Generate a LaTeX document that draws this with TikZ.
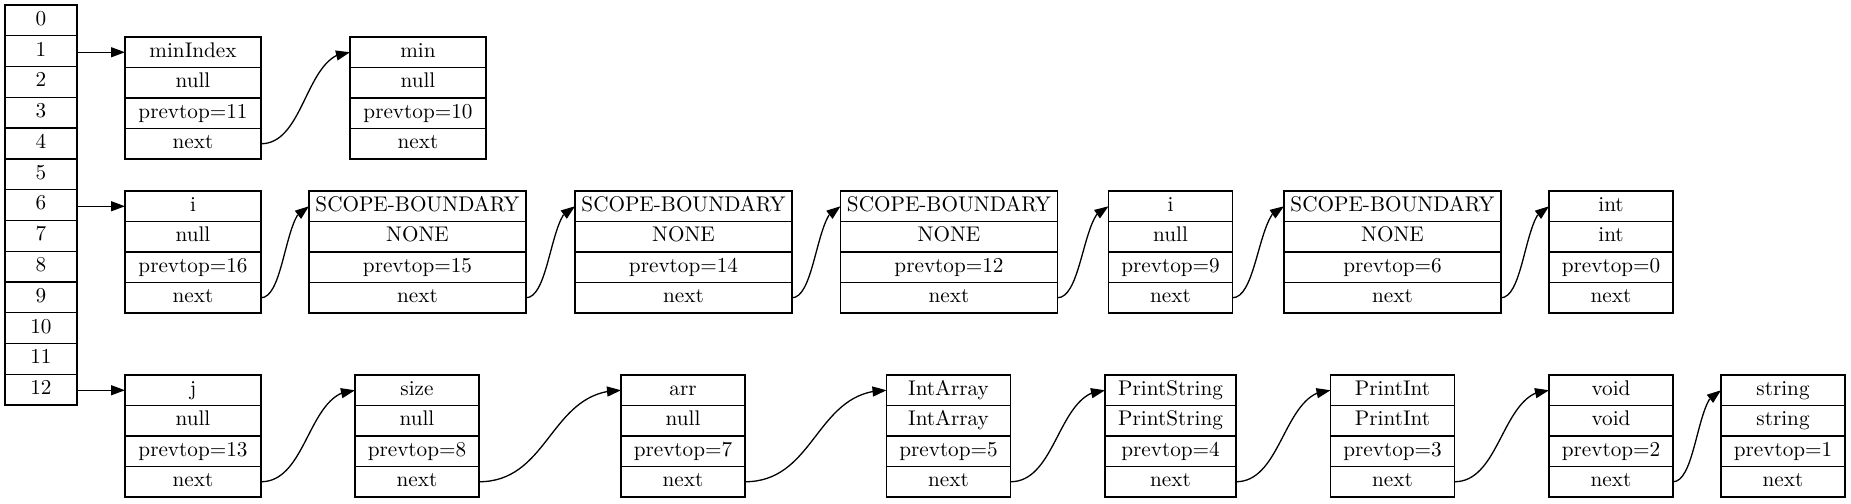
\documentclass[tikz,border=0pt]{standalone}
\usetikzlibrary{arrows.meta,bending}
\newcommand\recnode[8]{%
\node[cell,minimum width=#3*0.5pt] (#1-1) at ({#2+#3/2},{#4+15.25}) {#5};
\node[cell,minimum width=#3*0.5pt] (#1-2) at ({#2+#3/2},{#4+45.75}) {#6};
\node[cell,minimum width=#3*0.5pt] (#1-3) at ({#2+#3/2},{#4+76.25}) {#7};
\node[cell,minimum width=#3*0.5pt] (#1-4) at ({#2+#3/2},{#4+106.75}) {#8};}
\newcommand\lnk[3]{\draw[ptr] (#1-4.east) .. controls +(#3,0) and +(-#3,0) .. (#2-1.west);}
\begin{document}
\begin{tikzpicture}[x=0.5pt,y=-0.5pt,
  cell/.style={draw, line width=0.65pt, inner sep=0pt, outer sep=0pt,
    minimum height=15.25pt, font=\fontsize{10.6}{12}\selectfont,
    text height=1.6ex, text depth=0.45ex},
  acell/.style={cell, minimum width=36pt, minimum height=15.385pt},
  ptr/.style={line width=0.65pt, -{Triangle[length=7pt,width=5pt,flex]}}]
\useasboundingbox (0,0) rectangle (1851,503);
% array
\foreach \k in {0,...,12} \node[acell] (a\k) at (41,{5+30.77*(\k+0.5)}) {\k};
% row 1
\recnode{mi}{125}{136}{37}{minIndex}{null}{prevtop=11}{next}
\recnode{mn}{350}{136}{37}{min}{null}{prevtop=10}{next}
% row 2
\recnode{ia}{125}{136}{191}{i}{null}{prevtop=16}{next}
\recnode{sba}{309}{217}{191}{SCOPE-BOUNDARY}{NONE}{prevtop=15}{next}
\recnode{sbb}{575}{217}{191}{SCOPE-BOUNDARY}{NONE}{prevtop=14}{next}
\recnode{sbc}{840.5}{217}{191}{SCOPE-BOUNDARY}{NONE}{prevtop=12}{next}
\recnode{ib}{1108.5}{124}{191}{i}{null}{prevtop=9}{next}
\recnode{sbd}{1284}{217}{191}{SCOPE-BOUNDARY}{NONE}{prevtop=6}{next}
\recnode{int}{1549}{124}{191}{int}{int}{prevtop=0}{next}
% row 3
\recnode{j}{125}{136}{375}{j}{null}{prevtop=13}{next}
\recnode{size}{355}{124}{375}{size}{null}{prevtop=8}{next}
\recnode{arr}{621}{124}{375}{arr}{null}{prevtop=7}{next}
\recnode{iar}{886.5}{124}{375}{IntArray}{IntArray}{prevtop=5}{next}
\recnode{ps}{1105}{131}{375}{PrintString}{PrintString}{prevtop=4}{next}
\recnode{pi}{1330.5}{124}{375}{PrintInt}{PrintInt}{prevtop=3}{next}
\recnode{void}{1549}{124}{375}{void}{void}{prevtop=2}{next}
\recnode{str}{1721}{124}{375}{string}{string}{prevtop=1}{next}
% pointers from array
\draw[ptr] (a1.east |- mi-1.west) -- (mi-1.west);
\draw[ptr] (a6.east |- ia-1.west) -- (ia-1.west);
\draw[ptr] (a12.east |- j-1.west) -- (j-1.west);
% chains
\lnk{mi}{mn}{44.5}
\lnk{ia}{sba}{24}
\lnk{sba}{sbb}{24.5}
\lnk{sbb}{sbc}{24}
\lnk{sbc}{ib}{25.5}
\lnk{ib}{sbd}{25.5}
\lnk{sbd}{int}{24}
\lnk{j}{size}{47}
\lnk{size}{arr}{71}
\lnk{arr}{iar}{71}
\lnk{iar}{ps}{47}
\lnk{ps}{pi}{47}
\lnk{pi}{void}{47}
\lnk{void}{str}{24}
\end{tikzpicture}
\end{document}
